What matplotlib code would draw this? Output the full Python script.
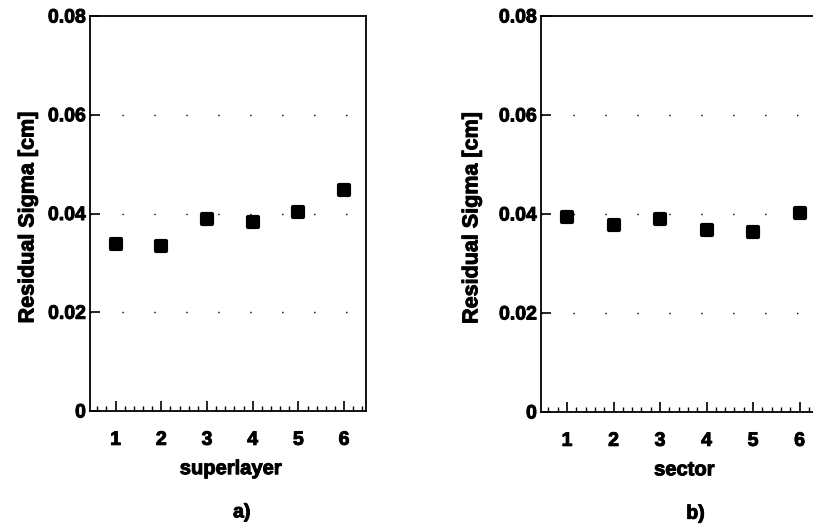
import numpy as np
import matplotlib.pyplot as plt
import matplotlib.patheffects as pe
from matplotlib.markers import MarkerStyle
from matplotlib.ticker import MultipleLocator

plt.rcParams['font.family'] = ['Liberation Sans', 'DejaVu Sans']
plt.rcParams['font.weight'] = 'bold'

superlayer = [1, 2, 3, 4, 5, 6]
sigma_superlayer = [0.0338, 0.0334, 0.0388, 0.0383, 0.0404, 0.0448]

sector = [1, 2, 3, 4, 5, 6]
sigma_sector = [0.0394, 0.0378, 0.0389, 0.0368, 0.0363, 0.0403]

yticks = [0, 0.02, 0.04, 0.06, 0.08]
ytick_labels = ['0', '0.02', '0.04', '0.06', '0.08']

# slight stroke to mimic the heavy scanned lettering
heavy = [pe.withStroke(linewidth=0.7, foreground='black')]


def style_axes(ax, x, y, xlabel, caption, ylab_x):
    ax.plot(x, y, linestyle='none', marker=MarkerStyle('s', joinstyle='round'),
            markersize=7.2, markeredgewidth=3, markeredgecolor='black',
            markerfacecolor='black')
    for g in [0.02, 0.04, 0.06]:
        ax.axhline(g, color='black', linewidth=1.0, linestyle=(0, (1, 22)), zorder=0)
    ax.set_xlim(0.44, 6.48)
    ax.set_ylim(0, 0.08)
    ax.set_xticks(x)
    ax.xaxis.set_minor_locator(MultipleLocator(0.2))
    ax.set_yticks(yticks)
    ax.set_yticklabels(ytick_labels)
    ax.tick_params(axis='both', which='major', direction='in', labelsize=14,
                   width=1.2, length=7)
    ax.tick_params(axis='x', which='major', pad=15)
    ax.tick_params(axis='x', which='minor', direction='in', length=3.5, width=1)
    ax.tick_params(axis='y', which='major', length=7, pad=3)
    ax.tick_params(top=False, right=False)
    for lab in ax.get_xticklabels() + ax.get_yticklabels():
        lab.set_path_effects(heavy)
    for s in ax.spines.values():
        s.set_linewidth(1.3)
    ax.set_xlabel(xlabel, fontsize=14.5, fontweight='bold', va='center',
                  path_effects=heavy)
    ax.xaxis.set_label_coords(0.51, -0.146)
    ax.set_ylabel('Residual Sigma [cm]', fontsize=15.5, fontweight='bold',
                  va='center', path_effects=heavy)
    ax.yaxis.set_label_coords(ylab_x, 0.49)
    ax.text(0.55, -0.258, caption, transform=ax.transAxes, ha='center', va='center',
            fontsize=14, fontweight='bold', path_effects=heavy)


fig = plt.figure(figsize=(8.13, 5.28), dpi=100)
ax1 = fig.add_axes([0.1107, 0.2216, 0.3395, 0.748])
ax2 = fig.add_axes([0.6654, 0.2197, 0.3456, 0.750])

style_axes(ax1, superlayer, sigma_superlayer, 'superlayer', 'a)', -0.225)
style_axes(ax2, sector, sigma_sector, 'sector', 'b)', -0.246)

fig.savefig('out.png', dpi=100)
